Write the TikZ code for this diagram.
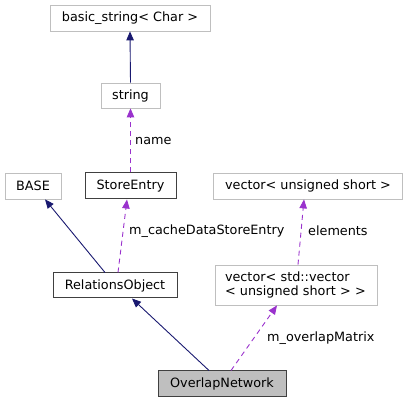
\documentclass[tikz,border=0pt]{standalone}
\usepackage{fontspec}
\setmainfont{DejaVu Sans}
\usetikzlibrary{arrows.meta,calc}
\definecolor{gbord}{HTML}{BFBFBF}
\definecolor{dbord}{HTML}{404040}
\definecolor{inh}{HTML}{191970}
\definecolor{use}{HTML}{9A32CD}
\tikzset{
  cls/.style={draw=gbord, line width=0.8pt, rectangle, inner sep=0pt, align=center, font=\fontsize{12.8pt}{14.5pt}\selectfont, text=black},
  dcls/.style={cls, draw=dbord, line width=1pt},
  inhline/.style={draw=inh, line width=0.9pt, -{Triangle[length=9pt,width=7.5pt]}},
  useline/.style={draw=use, line width=0.9pt, dash pattern=on 5pt off 4pt, -{Triangle[length=9pt,width=7.5pt]}},
  lbl/.style={anchor=west, inner sep=0pt, font=\fontsize{12.8pt}{14.5pt}\selectfont}
}
\begin{document}
\begin{tikzpicture}[x=1pt,y=-1pt]
\useasboundingbox (0,0) rectangle (408,403);
\node[cls, minimum width=160pt, minimum height=26pt] (bs) at (130,18) {basic\_string< Char >};
\node[cls, minimum width=59pt, minimum height=25pt] (str) at (130.5,95.5) {string};
\node[cls, minimum width=56pt, minimum height=26pt] (base) at (33,186) {BASE};
\node[dcls, minimum width=91pt, minimum height=26pt] (se) at (130.5,186) {StoreEntry};
\node[cls, minimum width=189pt, minimum height=26pt] (vus) at (308,186) {vector< unsigned short >};
\node[dcls, minimum width=124pt, minimum height=25pt] (ro) at (115,285.5) {RelationsObject};
\node[cls, minimum width=162pt, minimum height=40pt, align=left, text width=142pt] (vv) at (296,285) {vector< std::vector\\< unsigned short > >};
\node[dcls, fill=gbord, minimum width=128pt, minimum height=26pt] (on) at (222,384) {OverlapNetwork};

\draw[inhline] (str.north) -- (bs.south);
\draw[useline] (se.north) -- (str.south);
\draw[inhline] ([xshift=-10pt]ro.north) -- ([xshift=12pt]base.south);
\draw[useline] ([xshift=3pt]ro.north) -- ([xshift=-3.5pt]se.south);
\draw[useline] ([xshift=2pt]vv.north) -- ([xshift=-4pt]vus.south);
\draw[inhline] ([xshift=-13pt]on.north) -- ([xshift=17pt]ro.south);
\draw[useline] ([xshift=9pt]on.north) -- ([xshift=-19pt]vv.south);

\node[lbl] (l1) at (135,141) {name};
\node[lbl] (l2) at (129,231) {m\_cacheDataStoreEntry};
\node[lbl] (l3) at (308,231) {elements};
\node[lbl] (l4) at (267,338) {m\_overlapMatrix};
\end{tikzpicture}
\end{document}
